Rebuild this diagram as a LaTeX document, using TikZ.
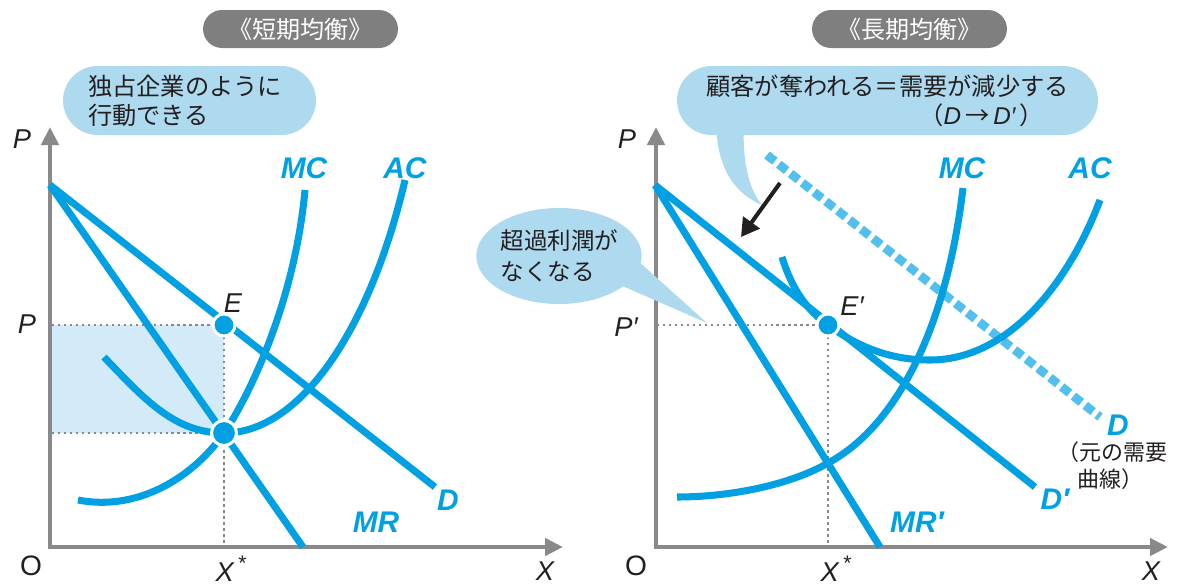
\documentclass[tikz,border=0pt]{standalone}
\usepackage{fontspec}
\setmainfont{Liberation Sans}
\newfontfamily\jpfont{Noto Sans CJK JP}
\usepackage{xcolor}
\usetikzlibrary{arrows.meta, positioning, shapes.geometric, calc}

\definecolor{curveblue}{HTML}{00A0E3}
\definecolor{dashblue}{HTML}{52BFEC}
\definecolor{bubbleblue}{HTML}{AEDAF0}
\definecolor{shadeblue}{HTML}{D3EAF8}
\definecolor{axisgray}{HTML}{898989}
\definecolor{pillgray}{HTML}{7F7F7F}
\definecolor{inkgray}{HTML}{231F20}

\newcommand{\varit}[1]{{\normalfont\itshape #1}}
\newcommand{\optstar}{\,\raisebox{0.42em}{\normalfont\fontsize{12pt}{12pt}\selectfont *}}

\begin{document}
\begin{tikzpicture}[x=0.02cm, y=-0.02cm,
    curve/.style={draw=curveblue, line width=4pt},
    olddemand/.style={draw=dashblue, line width=5pt, dash pattern=on 0.2cm off 0.1cm},
    guide/.style={draw=axisgray, line width=1.4pt, dash pattern=on 1.4pt off 2pt},
    axis/.style={draw=axisgray, line width=2.8pt, {Triangle[length=0.36cm, width=0.34cm]}-{Triangle[length=0.36cm, width=0.34cm]}},
    shiftarrow/.style={draw=inkgray, line width=2.3pt, -{Triangle[length=0.36cm, width=0.4cm]}},
    dot/.style={circle, fill=curveblue, draw=white, line width=1.7pt, minimum size=0.44cm, inner sep=0pt},
    curvelabel/.style={text=curveblue, inner sep=0pt, font=\fontsize{17pt}{19pt}\selectfont\bfseries\itshape},
    axislabel/.style={text=inkgray, inner sep=0pt, font=\fontsize{15.5pt}{17pt}\selectfont\itshape},
    bubble/.style={fill=bubbleblue, text=inkgray, font=\fontsize{13.8pt}{16.4pt}\selectfont\jpfont},
    note/.style={text=inkgray, inner sep=0pt, align=left, font=\fontsize{12.5pt}{15.3pt}\selectfont\jpfont},
    pill/.style={fill=pillgray, text=white, rounded corners=0.38cm, minimum width=3.9cm, minimum height=0.76cm, font=\fontsize{13.7pt}{15pt}\selectfont\jpfont}
]
    \useasboundingbox (0,0) rectangle (1180,586);

    % Titles
    \node[pill] (shorttitle) at (300.5,29) {《短期均衡》};
    \node[pill] (longtitle) at (909.5,29) {《長期均衡》};

    % Short run: profit area and guides
    \fill[shadeblue] (52,325) rectangle (224,433);
    \coordinate (pe) at (52,325);
    \coordinate (pm) at (52,433);
    \coordinate (xe) at (224,547);
    \coordinate (e) at (224,325);
    \coordinate (m) at (224,433);
    \draw[guide] (pe) -- (e);
    \draw[guide] (pm) -- (m);
    \draw[guide] (e) -- (xe);

    % Short run: axes
    \draw[axis] (50,127) -- (50,547) -- (563,547);

    % Short run: curves
    \draw[curve] (50,185) -- (435,487);
    \draw[curve] (50,185) -- (303,547);
    \draw[curve] (78,500) .. controls (140,512) and (195,475) .. (224,433)
        .. controls (250,395) and (295,300) .. (305,190);
    \draw[curve] (104,357) .. controls (145,400) and (175,433) .. (224,433)
        .. controls (300,433) and (370,330) .. (405,180);

    % Short run: points
    \node[dot] (edot) at (e) {};
    \node[dot, minimum size=0.5cm] (mdot) at (m) {};

    % Short run: labels
    \node[axislabel] (p1) at (22,139) {P};
    \node[axislabel] (pp1) at (27,324) {P};
    \node[axislabel, font=\fontsize{16pt}{17pt}\selectfont] (o1) at (31,566) {O};
    \node[axislabel] (xs1) at (231,569) {X\optstar};
    \node[axislabel] (x1) at (545,571) {X};
    \node[axislabel] (elabel) at (233,303) {E};
    \node[curvelabel] (mc1) at (304,168) {MC};
    \node[curvelabel] (ac1) at (405,168) {AC};
    \node[curvelabel] (d1) at (448,500) {D};
    \node[curvelabel] (mr1) at (376,522) {MR};

    % Short run: bubble
    \node[bubble, rounded corners=0.69cm, minimum width=5.06cm, minimum height=1.38cm,
        text width=4.06cm, align=left] (monopoly) at (189.5,100.5) {独占企業のように\\行動できる};

    % Long run: guides
    \coordinate (pe2) at (657,325);
    \coordinate (e2) at (828,325);
    \coordinate (xe2) at (828,547);
    \draw[guide] (pe2) -- (e2);
    \draw[guide] (e2) -- (xe2);

    % Long run: axes
    \draw[axis] (656,127) -- (656,547) -- (1168,547);

    % Long run: curves
    \draw[olddemand] (767,155) -- (1100,417);
    \draw[curve] (655,185) -- (1035,487);
    \draw[curve] (655,185) -- (880,547);
    \draw[curve] (677,497) .. controls (730,497) and (790,485) .. (828,463)
        .. controls (890,430) and (945,340) .. (963,188);
    \draw[curve] (782,257) .. controls (792,290) and (808,311) .. (828,325)
        .. controls (862,350) and (895,360) .. (930,360)
        .. controls (1010,360) and (1070,280) .. (1100,200);

    % Long run: point
    \node[dot] (e2dot) at (e2) {};

    % Long run: labels
    \node[axislabel] (p2) at (627,139) {P};
    \node[axislabel] (pp2) at (626,327) {P′};
    \node[axislabel, font=\fontsize{16pt}{17pt}\selectfont] (o2) at (636,566) {O};
    \node[axislabel] (xs2) at (836,569) {X\optstar};
    \node[axislabel] (x2) at (1151,571) {X};
    \node[axislabel] (e2label) at (852,306) {E′};
    \node[curvelabel] (mc2) at (962,168) {MC};
    \node[curvelabel] (ac2) at (1090,168) {AC};
    \node[curvelabel] (d2) at (1055,499) {D′};
    \node[curvelabel] (mr2) at (917,522) {MR′};
    \node[curvelabel] (d0) at (1118,425) {D};
    \node[note, anchor=north west] (d0note) at (1057,441) {（元の需要\\\hspace*{0.9em}曲線）};

    % Long run: bubbles
    \fill[bubbleblue] (716,120) .. controls (716,172) and (738,195) .. (762,205)
        .. controls (748,188) and (742,160) .. (744,120) -- cycle;
    \node[bubble, rounded corners=0.69cm, minimum width=8.42cm, minimum height=1.38cm,
        align=right] (demandshift) at (887.5,100.5)
        {顧客が奪われる＝需要が減少する\\（\varit{D}\,→\,\varit{D′}\,）\hspace*{0.5cm}};
    \fill[bubbleblue] (618,284) -- (707,323) -- (637,260) -- cycle;
    \node[bubble, ellipse, minimum width=3.24cm, minimum height=1.92cm, inner sep=0pt,
        text width=2.34cm, align=left, font=\fontsize{13.4pt}{17.6pt}\selectfont\jpfont]
        (excess) at (559,256) {超過利潤が\\なくなる};

    % Demand shift
    \coordinate (shiftfrom) at (780,183);
    \coordinate (shiftto) at (741,237);
    \draw[shiftarrow] (shiftfrom) -- (shiftto);
\end{tikzpicture}
\end{document}
